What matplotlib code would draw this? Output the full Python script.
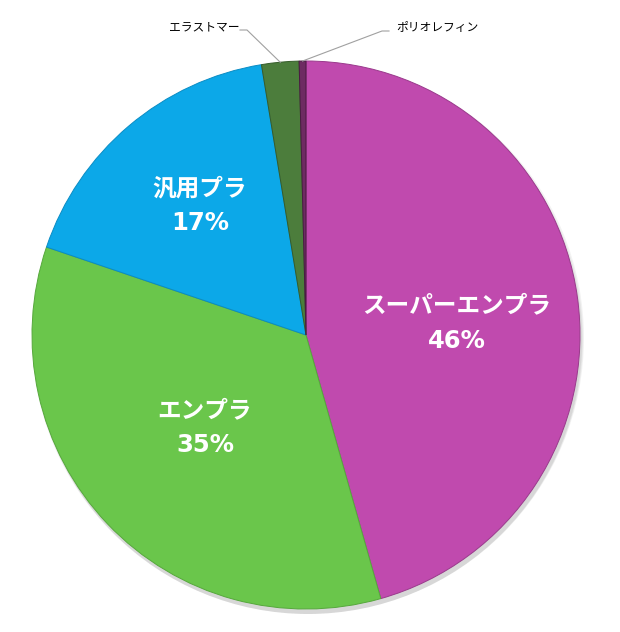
import numpy as np
import matplotlib
matplotlib.use("Agg")
import matplotlib.pyplot as plt
from matplotlib.patches import Circle

plt.rcParams['font.family'] = ['Noto Sans CJK JP', 'DejaVu Sans']

# shares of each category (%), clockwise from 12 o'clock
labels = ["スーパーエンプラ", "エンプラ", "汎用プラ", "エラストマー", "ポリオレフィン"]
values = [45.6, 34.6, 17.2, 2.2, 0.4]
colors = ["#C04AAE", "#6AC64B", "#0CA8E8", "#4C7D3C", "#6E2B62"]
edges = ["#9A3A8C", "#56A83C", "#0A8CC4", "#355C2A", "#4A1A42"]

fig = plt.figure(figsize=(6.2, 6.32), dpi=100)
ax = fig.add_axes([0, 0, 1, 1])

cx, cy, R = 306, 297, 274

# soft shadow under the pie
for k, a in enumerate([0.05, 0.05, 0.06]):
    ax.add_patch(Circle((cx + 2, cy - 3 - k), R + 2 - k, color="black", alpha=a, lw=0, zorder=0))

wedges, _ = ax.pie(values, colors=colors, startangle=90, counterclock=False,
                   center=(cx, cy), radius=R, frame=True,
                   wedgeprops=dict(linewidth=0.7))
for w, ec in zip(wedges, edges):
    w.set_edgecolor(ec)
    w.set_zorder(2)
ax.set_xlim(0, 620)
ax.set_ylim(0, 632)
ax.axis("off")

# inner labels: (radius fraction, angle nudge in degrees)
inner_pos = [(0.553, -3.2), (0.50, -1.1), (0.612, -1.1)]
for w, lab, v, (rf, dang) in zip(wedges[:3], labels[:3], values[:3], inner_pos):
    ang = np.deg2rad((w.theta1 + w.theta2) / 2 + dang)
    x = cx + rf * R * np.cos(ang)
    y = cy + rf * R * np.sin(ang)
    ax.text(x, y + 17, lab, color="white", fontsize=17, fontweight="bold",
            ha="center", va="center", zorder=5)
    ax.text(x, y - 18, f"{v:.0f}%", color="white", fontsize=17.5, fontweight="bold",
            family="DejaVu Sans", ha="center", va="center", zorder=5)

# outer labels with leader lines
def outer(w, text, tx, ty, elbow, ha):
    ang = np.deg2rad((w.theta1 + w.theta2) / 2)
    px = cx + R * np.cos(ang)
    py = cy + R * np.sin(ang)
    ax.plot([px, elbow[0], elbow[1]], [py, ty, ty], color="#A0A0A0", lw=0.8, zorder=4)
    ax.text(tx, ty + 3, text, fontsize=8.5, ha=ha, va="center", color="black", zorder=5)

outer(wedges[3], labels[3], 239, 632 - 30, (247, 240), "right")
outer(wedges[4], labels[4], 396, 632 - 31, (382, 389), "left")

fig.savefig("out.png", dpi=100)
